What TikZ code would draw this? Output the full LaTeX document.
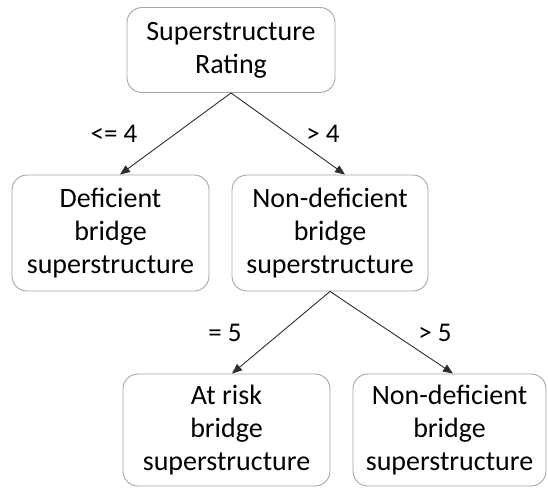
\documentclass[tikz,border=0pt]{standalone}
\usepackage{fontspec}
\setmainfont{Carlito}
\usetikzlibrary{arrows.meta}
\definecolor{boxline}{RGB}{165,165,165}
\definecolor{arrowline}{RGB}{45,45,45}
\tikzset{
  box/.style={draw=boxline, line width=0.9pt, rounded corners=15pt, rectangle,
    align=center, inner sep=0pt, font=\fontsize{28}{33}\selectfont},
  link/.style={draw=arrowline, line width=0.9pt, -{Triangle[length=10pt,width=8pt]}},
  cond/.style={font=\fontsize{27}{30}\selectfont, inner sep=0pt}
}
\begin{document}
\begin{tikzpicture}[x=1pt,y=-1pt]
\useasboundingbox (0,0) rectangle (548,487);
% tree nodes
\node[box, minimum width=208pt, minimum height=85pt] (root) at (231,50) {Superstructure\\Rating};
\node[box, minimum width=197pt, minimum height=116pt] (def) at (110.5,233) {Deficient\\bridge\\superstructure};
\node[box, minimum width=196pt, minimum height=116pt] (nondef) at (330,233) {Non-deficient\\bridge\\superstructure};
\node[box, minimum width=207pt, minimum height=112pt] (risk) at (226.5,430) {At risk\\bridge\\superstructure};
\node[box, minimum width=193pt, minimum height=112pt] (nondefb) at (449.5,430) {Non-deficient\\bridge\\superstructure};
% branches
\draw[link] (root.south) -- ([xshift=9.5pt]def.north);
\draw[link] (root.south) -- ([xshift=15pt]nondef.north);
\draw[link] (nondef.south) -- ([xshift=5.5pt]risk.north);
\draw[link] (nondef.south) -- ([xshift=3.5pt]nondefb.north);
% branch conditions
\node[cond] (c1) at (114,134) {<= 4};
\node[cond] (c2) at (323,134) {> 4};
\node[cond] (c3) at (225,333) {= 5};
\node[cond] (c4) at (435,333) {> 5};
\end{tikzpicture}
\end{document}
